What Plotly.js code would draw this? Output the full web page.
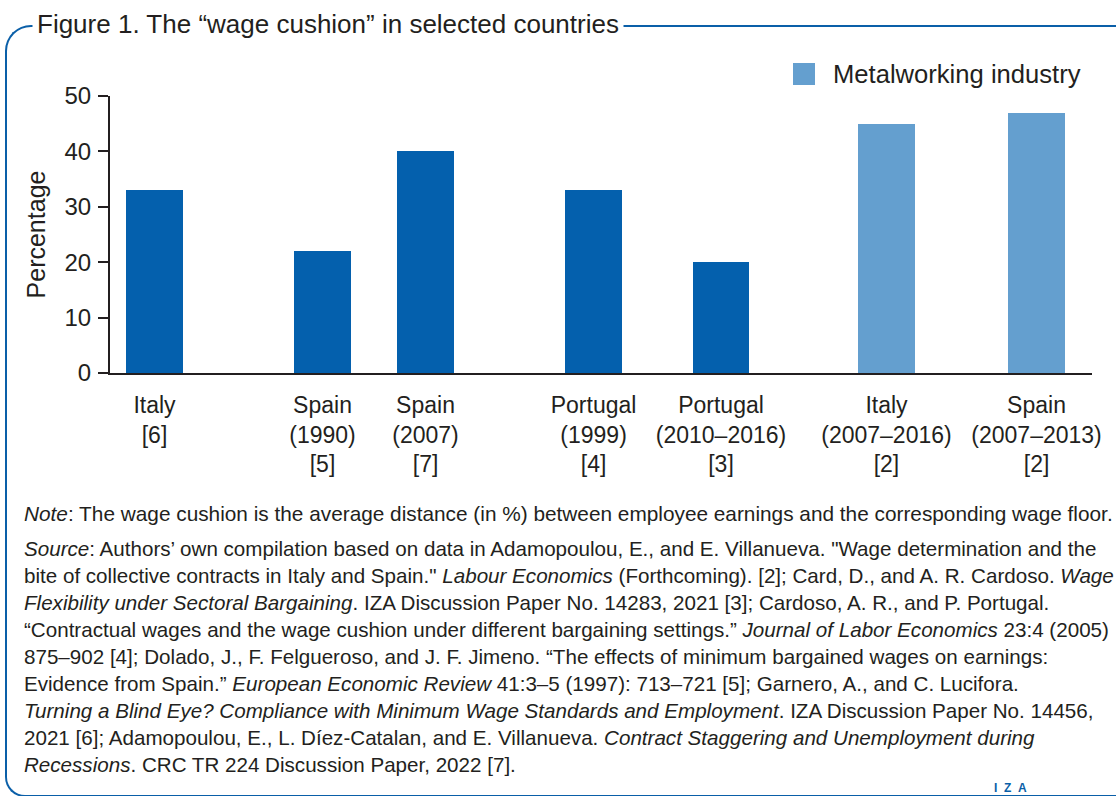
<!DOCTYPE html>
<html>
<head>
<meta charset="utf-8">
<script src="https://cdn.plot.ly/plotly-3.0.1.min.js"></script>
<style>
  html, body { margin: 0; padding: 0; background: #ffffff; width: 1116px; height: 796px; overflow: hidden; }
  #wrap { position: relative; width: 1116px; height: 796px; }
  #frame { position: absolute; left: 5px; top: 24.5px; width: 1200px; height: 768px;
           border: 2.5px solid #0a5fa8; border-right: none;
           border-top-left-radius: 26px; border-bottom-left-radius: 20px; }
  #chart { position: absolute; left: 0; top: 0; width: 1116px; height: 796px; }
</style>
</head>
<body>
<div id="wrap">
  <div id="frame"></div>
  <div id="chart"></div>
</div>
<script>
// ---- data ----
const countries = ['Italy', 'Spain', 'Spain', 'Portugal', 'Portugal', 'Italy', 'Spain'];
const periods   = ['', '(1990)', '(2007)', '(1999)', '(2010–2016)', '(2007–2016)', '(2007–2013)'];
const refs      = ['[6]', '[5]', '[7]', '[4]', '[3]', '[2]', '[2]'];
const sectors   = ['All', 'All', 'All', 'All', 'All', 'Metalworking', 'Metalworking'];
const wageCushion = [33, 22, 40, 33, 20, 45, 47];

// ---- layout helpers (slot positions of the bars along the axis) ----
const slots = [0.453, 2.164, 3.213, 4.924, 6.222, 7.907, 9.435];

const W = 1116, H = 796;
const plotL = 110, plotR = 1092, plotT = 96, plotB = 373;
const px = x => (x - plotL) / (plotR - plotL);
const py = y => (plotB - y) / (plotB - plotT);

const labels = countries.map((c, i) => [c, periods[i], refs[i]].filter(s => s).join('<br>'));

function pick(sector) {
  const xs = [], ys = [], names = [];
  sectors.forEach((s, i) => { if (s === sector) { xs.push(slots[i]); ys.push(wageCushion[i]); names.push(labels[i]); } });
  return { xs, ys, names };
}
const all = pick('All'), metal = pick('Metalworking');

const textCol = '#231f20';
const font = '"Liberation Sans", Arial, sans-serif';

const traces = [
  { type: 'bar', x: all.xs, y: all.ys, width: 0.58, marker: { color: '#0460ad' },
    name: 'All sectors', showlegend: false, hoverinfo: 'y' },
  { type: 'bar', x: metal.xs, y: metal.ys, width: 0.58, marker: { color: '#649fcf' },
    name: 'Metalworking industry', showlegend: false, hoverinfo: 'y' }
];

const noteText = '<i>Note</i>: The wage cushion is the average distance (in %) between employee earnings and the corresponding wage floor.';
const sourceLines = [
  '<i>Source</i>: Authors’ own compilation based on data in Adamopoulou, E., and E. Villanueva. "Wage determination and the',
  'bite of collective contracts in Italy and Spain." <i>Labour Economics</i> (Forthcoming). [2]; Card, D., and A. R. Cardoso. <i>Wage</i>',
  '<i>Flexibility under Sectoral Bargaining</i>. IZA Discussion Paper No. 14283, 2021 [3]; Cardoso, A. R., and P. Portugal.',
  '“Contractual wages and the wage cushion under different bargaining settings.” <i>Journal of Labor Economics</i> 23:4 (2005)',
  '875–902 [4]; Dolado, J., F. Felgueroso, and J. F. Jimeno. “The effects of minimum bargained wages on earnings:',
  'Evidence from Spain.” <i>European Economic Review</i> 41:3–5 (1997): 713–721 [5]; Garnero, A., and C. Lucifora.',
  '<i>Turning a Blind Eye? Compliance with Minimum Wage Standards and Employment</i>. IZA Discussion Paper No. 14456,',
  '2021 [6]; Adamopoulou, E., L. Díez-Catalan, and E. Villanueva. <i>Contract Staggering and Unemployment during</i>',
  '<i>Recessions</i>. CRC TR 224 Discussion Paper, 2022 [7].'
];

const noteFont = { size: 20.8, color: textCol, family: font };
const sourceFont = { size: 20.6, color: textCol, family: font };

const annotations = [
  { xref: 'paper', yref: 'paper', x: px(32), y: py(24), xanchor: 'left', yanchor: 'middle',
    text: 'Figure 1. The “wage cushion” in selected countries', showarrow: false,
    font: { size: 26, color: textCol, family: font }, bgcolor: '#ffffff', borderpad: 4 },
  { xref: 'paper', yref: 'paper', x: px(831), y: py(74), xanchor: 'left', yanchor: 'middle',
    text: 'Metalworking industry', showarrow: false,
    font: { size: 25.6, color: textCol, family: font } },
  { xref: 'paper', yref: 'paper', x: px(22), y: py(513), xanchor: 'left', yanchor: 'middle',
    text: noteText, showarrow: false, align: 'left', font: noteFont },
  { xref: 'paper', yref: 'paper', x: px(993), y: py(787.5), xanchor: 'left', yanchor: 'middle',
    text: '<b>I\u00a0\u00a0Z\u00a0\u00a0A</b>', showarrow: false, borderpad: 0,
    font: { size: 12, color: '#0a5fa8', family: font } }
];
sourceLines.forEach((line, i) => {
  annotations.push({ xref: 'paper', yref: 'paper', x: px(22), y: py(548 + 27 * i),
    xanchor: 'left', yanchor: 'middle', text: line, showarrow: false, align: 'left', font: sourceFont });
});

const layout = {
  width: W, height: H,
  margin: { l: plotL, r: W - plotR, t: plotT, b: H - plotB, pad: 0 },
  paper_bgcolor: 'rgba(0,0,0,0)', plot_bgcolor: 'rgba(0,0,0,0)',
  font: { family: font, color: textCol },
  bargap: 0,
  showlegend: false,
  xaxis: {
    range: [0, 10], fixedrange: true,
    tickmode: 'array', tickvals: slots, ticktext: labels,
    showline: true, linecolor: '#231f20', linewidth: 2,
    ticks: '', showgrid: false, zeroline: false,
    tickfont: { size: 23, color: textCol, family: font },
    ticklabelstandoff: 10
  },
  yaxis: {
    range: [0, 50], fixedrange: true,
    tickvals: [0, 10, 20, 30, 40, 50],
    showline: true, linecolor: '#231f20', linewidth: 2,
    ticks: 'outside', ticklen: 10, tickwidth: 2, tickcolor: '#231f20',
    showgrid: false, zeroline: false,
    tickfont: { size: 24, color: textCol, family: font },
    ticklabelstandoff: 2,
    title: { text: 'Percentage', font: { size: 25, color: textCol, family: font }, standoff: 12 },
    automargin: false
  },
  shapes: [
    { type: 'rect', xref: 'paper', yref: 'paper',
      x0: px(793), x1: px(815), y0: py(85), y1: py(63),
      fillcolor: '#649fcf', line: { width: 0 } }
  ],
  annotations: annotations
};

Plotly.newPlot('chart', traces, layout, { displayModeBar: false, staticPlot: true });
</script>
</body>
</html>
